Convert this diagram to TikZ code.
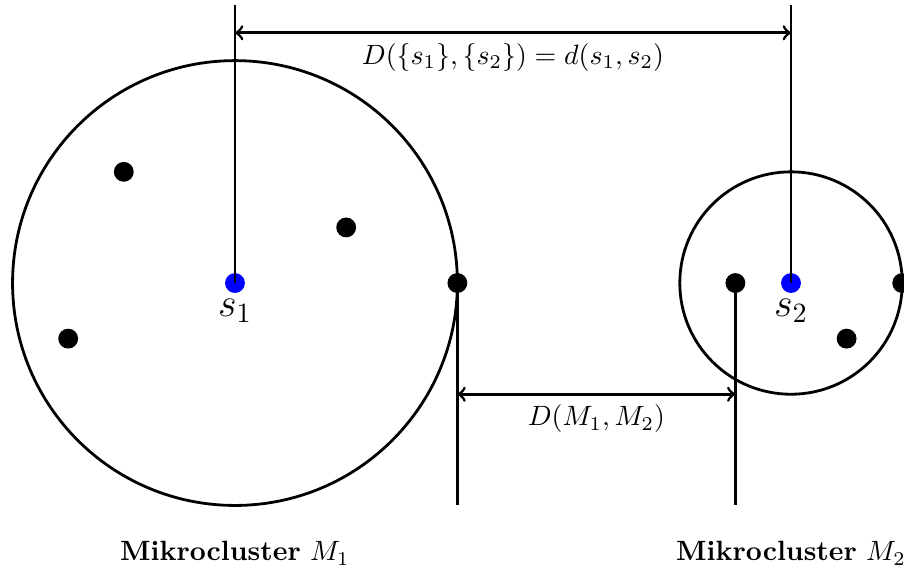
\documentclass[tikz,border=0pt]{standalone}
\usetikzlibrary{positioning}

\begin{document}
\begin{tikzpicture}[
  x=1.4cm, y=1.4cm,
  line width=1pt,
  pt/.style={circle, fill=black, inner sep=0pt, minimum size=0.25cm},
  seed/.style={circle, fill=blue, inner sep=0pt, minimum size=0.25cm},
  dim/.style={<->},
  lbl/.style={font=\Large}
]
\useasboundingbox (-2.113,-2.608) rectangle (6.016,2.545);

% Mikrocluster M1
\node[seed] (s1) at (0,0) {};
\draw (s1.center) circle[radius=2];
\node[pt] (a1) at (-1,1) {};
\node[pt] (a2) at (1,0.5) {};
\node[pt] (a3) at (-1.5,-0.5) {};
\node[pt] (a4) at (2,0) {};
\node[lbl, below=-2pt of s1] (s1lbl) {$s_1$};

% Mikrocluster M2
\node[seed] (s2) at (5,0) {};
\draw (s2.center) circle[radius=1];
\node[pt] (b1) at (4.5,0) {};
\node[pt] (b2) at (5.5,-0.5) {};
\node[pt] (b3) at (6,0) {};
\node[lbl, below=-2pt of s2] (s2lbl) {$s_2$};

% distance between seeds
\coordinate (t1) at (0,2.5);
\coordinate (t2) at (5,2.5);
\coordinate (d1) at (0,2.25);
\coordinate (d2) at (5,2.25);
\draw (s1.center) -- (t1);
\draw (s2.center) -- (t2);
\draw[dim] (d1) -- node[below] {$D(\{s_1\},\{s_2\})=d(s_1,s_2)$} (d2);

% distance between clusters
\coordinate (u1) at (2,-2);
\coordinate (u2) at (4.5,-2);
\coordinate (e1) at (2,-1);
\coordinate (e2) at (4.5,-1);
\draw (a4.center) -- (u1);
\draw (b1.center) -- (u2);
\draw[dim] (e1) -- node[below] {$D(M_1,M_2)$} (e2);

\node (m1) at (0,-2.43) {\textbf{Mikrocluster} $M_1$};
\node (m2) at (5,-2.43) {\textbf{Mikrocluster} $M_2$};

\end{tikzpicture}
\end{document}
